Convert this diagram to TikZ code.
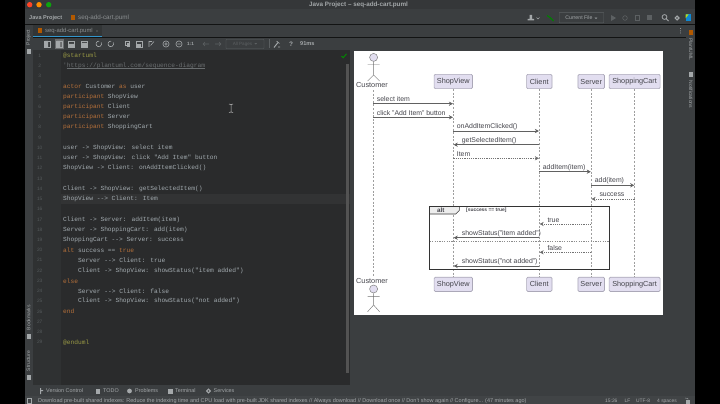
\documentclass[tikz,border=0pt]{standalone}
\usepackage{fontspec}
\setmainfont{Liberation Sans}
\newfontfamily\codefont{Liberation Mono}
\usetikzlibrary{arrows.meta}
\definecolor{idebg}{HTML}{3B3E40}
\definecolor{titlebg}{HTML}{353739}
\definecolor{edbg}{HTML}{2A2B2C}
\definecolor{gutterbg}{HTML}{2F3132}
\definecolor{rowbg}{HTML}{323334}
\definecolor{kw}{HTML}{B5703A}
\definecolor{tx}{HTML}{A3ABB0}
\definecolor{ann}{HTML}{9A9A45}
\definecolor{cmt}{HTML}{6A6E70}
\definecolor{lnum}{HTML}{555A5C}
\definecolor{uitx}{HTML}{A4A8AA}
\definecolor{dim}{HTML}{5C6062}
\definecolor{partfill}{HTML}{E2DEF0}
\definecolor{partline}{HTML}{ABA8B8}
\definecolor{dtx}{HTML}{45454C}
\tikzset{
  code/.style={anchor=west,inner sep=0pt,font=\codefont\fontsize{6.22}{7}\selectfont,text=tx},
  lnumber/.style={anchor=center,inner sep=0pt,font=\fontsize{4.8}{6}\selectfont,text=lnum},
  ui/.style={anchor=west,inner sep=0pt,font=\fontsize{5.6}{7}\selectfont,text=uitx},
  vert/.style={anchor=center,inner sep=0pt,font=\fontsize{5}{6}\selectfont,text=uitx},
  part/.style={draw=partline,fill=partfill,rounded corners=1.2pt,line width=.7pt,inner sep=0pt,minimum height=14.2pt,font=\fontsize{7.3}{9}\selectfont,text=dtx},
  life/.style={draw=black!38,line width=.4pt,dash pattern=on 2pt off 1.6pt},
  msg/.style={draw=black!62,line width=.75pt,shorten >=.4pt,-{Stealth[length=4pt,width=4.2pt,inset=1.2pt,fill=black!85]}},
  rmsg/.style={draw=black!55,line width=.55pt,dash pattern=on 1.2pt off 1pt,shorten >=.4pt,-{Stealth[length=4pt,width=4.2pt,inset=1.2pt,fill=black!85]}},
  mtxt/.style={anchor=west,inner sep=0pt,font=\fontsize{6.9}{8}\selectfont,text=dtx},
  actorline/.style={draw=black!55,line width=.4pt},
  actorhead/.style={circle,draw=black!50,fill=partfill,line width=.5pt,inner sep=0pt,minimum size=8pt},
  atxt/.style={inner sep=0pt,font=\fontsize{7.3}{9}\selectfont,text=dtx},
  ic/.style={draw=uitx,line width=.6pt},
  icf/.style={fill=uitx},
  icd/.style={draw=dim,line width=.6pt}
}
\begin{document}
\begin{tikzpicture}[x=1pt,y=-1pt]
\useasboundingbox (0,0) rectangle (720,404);
\fill[black] (0,0) rectangle (720,404);
% window
\fill[idebg] (25,0) rectangle (695,404);
\fill[titlebg] (25,0) rectangle (695,9.5);
\draw[black!70!idebg,line width=.3pt] (25,24.5) -- (695,24.5);
\draw[black!70!idebg,line width=.3pt] (33,37) -- (686,37);
\fill[idebg!97!white] (25,395.5) rectangle (695,404);
% lights
\fill[red!72!orange!85] (29.7,4.7) circle (2.7);
\fill[orange!90!yellow] (39,4.7) circle (2.7);
\fill[green!62!black!95] (48.7,4.7) circle (2.7);
\node[ui,font=\bfseries\fontsize{6.3}{7}\selectfont] (wtitle) at (309,4.6) {Java Project – seq-add-cart.puml};
% breadcrumb
\node[ui,font=\bfseries\fontsize{5.6}{7}\selectfont] (crumbp) at (29,18) {Java Project};
\fill[orange!70!black] (70.5,15.5) rectangle (74.5,20.5);
\node[ui,font=\fontsize{6.3}{7}\selectfont,text=uitx!85!black] (crumbf) at (78,18) {seq-add-cart.puml};
% tab
\fill[idebg!85!black] (33,25) rectangle (102,37);
\fill[orange!70!black] (37.5,28.5) rectangle (41.5,33.5);
\node[ui,font=\fontsize{5.9}{7}\selectfont,text=uitx!85!black] (tabf) at (45,31) {seq-add-cart.puml};
\fill[blue!35!cyan!60!gray] (33,35.8) rectangle (102,36.8);
\draw[dim,line width=.3pt] (96,30) -- (98,32) (98,30) -- (96,32);
% preview toolbar
\fill[idebg!75!white] (54.5,39) rectangle (64,49);
\foreach \ix in {47,59,71,84}{\draw[ic,line width=.5pt] (\ix-3,41) rectangle (\ix+3,47);}
\fill[uitx] (45,41) rectangle (48,47) (57,41) rectangle (60,47) (68,44) rectangle (74,47) (81,43) rectangle (87,47);
\foreach \ix in {99,111}{\draw[ic] (\ix+2.2,42.5) arc (-30:280:2.8);}
\draw[ic] (125,41) rectangle (129,45); \fill[uitx] (126.5,43) rectangle (130,47.5);
\draw[ic] (136,41) rectangle (142,47); \fill[uitx] (137,44) rectangle (141,47);
\draw[ic] (149,47) -- (149,41.5) -- (152,41.5) (150.5,45.5) -- (154,41.5);
\draw[ic] (166,44) circle (3.1) (164.3,44) -- (167.7,44) (166,42.3) -- (166,45.7);
\draw[ic] (179,44) circle (3.1) (177.3,44) -- (180.7,44);
\node[ui,anchor=center,font=\bfseries\fontsize{4.6}{6}\selectfont] (oneone) at (190.5,44) {1:1};
\draw[icd] (203,44) -- (209,44) (205,42) -- (203,44) -- (205,46);
\draw[icd] (215,44) -- (221,44) (219,42) -- (221,44) -- (219,46);
\node[draw=dim,line width=.4pt,minimum width=38pt,minimum height=9pt,inner sep=0pt,anchor=center,rounded corners=.5pt,font=\fontsize{4.6}{6}\selectfont,text=dim] (pages) at (245,44) {All Pages \,\raisebox{.5pt}{\tikz[x=1pt,y=1pt]\fill[dim] (0,1.5)--(3,1.5)--(1.5,0)--cycle;}};
\draw[dim,line width=.4pt] (269,39.5) -- (269,48.5);
\draw[ic,line width=1pt] (274,47.5) -- (278,42.5);
\draw[ic] (276.5,41) -- (279.5,43.5) (278,47) -- (280,47);
\node[ui,anchor=center,font=\bfseries\fontsize{6.5}{7}\selectfont] (help) at (291,44) {?};
\node[ui,font=\bfseries\fontsize{5.6}{7}\selectfont] (ms) at (300,44) {91ms};
% right toolbar
\fill[uitx] (527.5,20.5) rectangle (534,19) (529.5,15) rectangle (532,19);
\draw[ic,line width=.4pt] (536.5,17.5) -- (538,19) -- (539.5,17.5);
\draw[green!50!black,line width=1.2pt] (547,15.5) -- (550,17.5) -- (553.5,21);
\node[draw=dim,line width=.4pt,minimum width=44.5pt,minimum height=10.5pt,inner sep=0pt,anchor=center,rounded corners=.5pt,font=\fontsize{5.2}{6}\selectfont,text=uitx] (curfile) at (581.5,17.7) {Current File\,\,\raisebox{.5pt}{\tikz[x=1pt,y=1pt]\fill[uitx] (0,1.5)--(3.4,1.5)--(1.7,0)--cycle;}};
\fill[dim] (611,15) -- (611,21) -- (616,18) -- cycle;
\draw[icd] (625,18) circle (2.3);
\draw[icd] (635,15.5) rectangle (639.5,20.5);
\fill[dim] (647,15.5) rectangle (652,20.5);
\draw[ic,line width=.8pt] (664.5,17) circle (2.4) (666.3,18.8) -- (668.5,21);
\draw[ic,line width=1.2pt] (677,18) circle (1.9);
\fill[cyan!70!blue] (685.5,14.5) rectangle (690.5,21);
\fill[yellow!70!green] (685.5,14.5) -- (688.5,14.5) -- (685.5,18.5) -- cycle;
\fill[uitx] (680.5,28.5) circle (.5) (680.5,30.8) circle (.5) (680.5,33) circle (.5);
% side stripes
\node[vert,rotate=90] (vproj) at (28.5,37.5) {Project};
\fill[uitx] (26.5,49) rectangle (31,54);
\node[vert,rotate=90] (vbook) at (28.5,317.5) {Bookmarks};
\fill[uitx] (26.5,334) rectangle (30.5,339);
\node[vert,rotate=90] (vstruct) at (28.5,361) {Structure};
\fill[uitx] (26.5,375) rectangle (30.5,380);
\fill[orange!70!black] (688.5,30) rectangle (692.5,35);
\node[vert,rotate=-90] (vplant) at (691,49) {PlantUML};
\fill[uitx] (688.5,72) rectangle (692.5,77);
\node[vert,rotate=-90] (vnote) at (691,94.5) {Notifications};
% editor
\fill[edbg] (33,50.5) rectangle (350,385);
\fill[gutterbg] (33,50.5) rectangle (61,385);
\fill[rowbg] (61,193.7) rectangle (350,203.7);
\fill[black!35!gray] (346,64) rectangle (348.5,373);
\draw[green!55!black,line width=.9pt] (341.5,56) -- (343.2,57.8) -- (346.5,53.8);
\foreach \n in {1,...,29}{
  \pgfmathsetmacro{\ly}{55.7+10.23*(\n-1)}
  \node[lnumber] (ln\n) at (39.7,\ly) {\n};
}
\newcommand{\K}[1]{\textcolor{kw}{#1}}
\node[code,text=ann] (c1) at (63,55.7) {@startuml};
\node[code,text=cmt] (c2) at (63,65.9) {'https://plantuml.com/sequence-diagram};
\draw[cmt,line width=.35pt] ([xshift=3.7pt]c2.base west) ++(0,.8) -- ([yshift=-.8pt]c2.base east);
\node[code] (c4) at (63,86.4) {\K{actor} Customer \K{as} user};
\node[code] (c5) at (63,96.6) {\K{participant} ShopView};
\node[code] (c6) at (63,106.8) {\K{participant} Client};
\node[code] (c7) at (63,117.1) {\K{participant} Server};
\node[code] (c8) at (63,127.3) {\K{participant} ShoppingCart};
\node[code] (c10) at (63,147.8) {user -> ShopView: select item};
\node[code] (c11) at (63,158) {user -> ShopView: click "Add Item" button};
\node[code] (c12) at (63,168.2) {ShopView -> Client: onAddItemClicked()};
\node[code] (c14) at (63,188.7) {Client -> ShopView: getSelectedItem()};
\node[code] (c15) at (63,198.9) {ShopView --> Client: Item};
\node[code] (c17) at (63,219.4) {Client -> Server: addItem(item)};
\node[code] (c18) at (63,229.6) {Server -> ShoppingCart: add(item)};
\node[code] (c19) at (63,239.8) {ShoppingCart --> Server: success};
\node[code] (c20) at (63,250.1) {\K{alt} success == \K{true}};
\node[code] (c21) at (78,260.3) {Server --> Client: true};
\node[code] (c22) at (78,270.5) {Client -> ShopView: showStatus("item added")};
\node[code,text=kw] (c23) at (63,280.8) {else};
\node[code] (c24) at (78,291) {Server --> Client: false};
\node[code] (c25) at (78,301.2) {Client -> ShopView: showStatus("not added")};
\node[code,text=kw] (c26) at (63,311.5) {end};
\node[code,text=ann] (c29) at (63,342.2) {@enduml};
% text cursor
\draw[black!25,line width=.5pt] (229,104) -- (231,104.5) -- (233,104) (231,104.5) -- (231,112) (229,112.5) -- (231,112) -- (233,112.5);
% tool window bar
\fill[uitx] (40,388) rectangle (41,394) (41,390) rectangle (43,391);
\node[ui,font=\fontsize{5.4}{7}\selectfont] (bvc) at (46,391) {Version Control};
\fill[uitx] (96,388.5) rectangle (100,393.5);
\node[ui,font=\fontsize{5.4}{7}\selectfont] (btodo) at (103,391) {TODO};
\fill[uitx] (129.5,391) circle (2.4);
\node[ui,font=\fontsize{5.4}{7}\selectfont] (bprob) at (135,391) {Problems};
\fill[uitx] (167.5,388.5) rectangle (172.5,393.5);
\node[ui,font=\fontsize{5.4}{7}\selectfont] (bterm) at (175,391) {Terminal};
\draw[ic,line width=1pt] (208.5,391) circle (1.9);
\node[ui,font=\fontsize{5.4}{7}\selectfont] (bserv) at (213.5,391) {Services};
% status bar
\draw[ic,line width=.5pt] (27,398) rectangle (31.5,403);
\node[ui,font=\fontsize{5.5}{7}\selectfont] (sbar) at (38,400.9) {Download pre-built shared indexes: Reduce the indexing time and CPU load with pre-built JDK shared indexes // Always download // Download once // Don't show again // Configure... (47 minutes ago)};
\node[ui,font=\fontsize{4.9}{7}\selectfont] (s1) at (605,400.9) {15:26};
\node[ui,font=\fontsize{4.9}{7}\selectfont] (s2) at (624.5,400.9) {LF};
\node[ui,font=\fontsize{4.9}{7}\selectfont] (s3) at (636,400.9) {UTF-8};
\node[ui,font=\fontsize{4.9}{7}\selectfont] (s4) at (657,400.9) {4 spaces};
\fill[uitx] (685.5,400) rectangle (690,403.5);
\draw[ic,line width=.4pt] (685,398) -- (688,398.5) -- (688,400);
% diagram
\fill[white] (354,51) rectangle (663,315);
\node[part,minimum width=38.4pt] (svt) at (453.3,81.5) {ShopView};
\node[part,minimum width=25.4pt] (clt) at (539.3,81.5) {Client};
\node[part,minimum width=26.6pt] (set) at (591.2,81.5) {Server};
\node[part,minimum width=51pt] (sct) at (634.6,81.5) {ShoppingCart};
\node[part,minimum width=38.4pt] (svb) at (453.3,284.3) {ShopView};
\node[part,minimum width=25.4pt] (clb) at (539.3,284.3) {Client};
\node[part,minimum width=26.6pt] (seb) at (591.2,284.3) {Server};
\node[part,minimum width=51pt] (scb) at (634.6,284.3) {ShoppingCart};
\node[atxt] (cut) at (372,85.4) {Customer};
\node[atxt] (cub) at (372,281.4) {Customer};
\coordinate (cul1) at (373.4,90);
\coordinate (cul2) at (373.4,276.5);
\draw[life] (cul1) -- (cul2);
\draw[life] (svt) -- (svb);
\draw[life] (clt) -- (clb);
\draw[life] (set) -- (seb);
\draw[life] (sct) -- (scb);
% actors
\node[actorhead] (headt) at (373.6,57.4) {};
\draw[actorline] (headt.south) -- (373.6,75) (367.6,64.5) -- (379.6,64.5) (367.6,81) -- (373.6,75) -- (379.6,81);
\node[actorhead] (headb) at (373.6,289) {};
\draw[actorline] (headb.south) -- (373.6,305) (367.6,296.4) -- (379.6,296.4) (367.6,311.7) -- (373.6,305) -- (379.6,311.7);
% messages
\draw[msg] (cul1 |- 0,103.7) -- (svt |- 0,103.7);
\node[mtxt] (m1) at (376.7,99.3) {select item};
\draw[msg] (cul1 |- 0,117.3) -- (svt |- 0,117.3);
\node[mtxt] (m2) at (376.7,113) {click "Add Item" button};
\draw[msg] (svt |- 0,131) -- (clt |- 0,131);
\node[mtxt] (m3) at (456.7,126.7) {onAddItemClicked()};
\draw[msg] (clt |- 0,144.7) -- (svt |- 0,144.7);
\node[mtxt] (m4) at (461.7,140.3) {getSelectedItem()};
\draw[rmsg] (svt |- 0,158.3) -- (clt |- 0,158.3);
\node[mtxt] (m5) at (456.7,154) {Item};
\draw[msg] (clt |- 0,171.7) -- (set |- 0,171.7);
\node[mtxt] (m6) at (542.7,167.3) {addItem(item)};
\draw[msg] (set |- 0,185.3) -- (sct |- 0,185.3);
\node[mtxt] (m7) at (594.7,181) {add(item)};
\draw[rmsg] (sct |- 0,199) -- (set |- 0,199);
\node[mtxt] (m8) at (599.3,195) {success};
% alt frame
\fill[black!7] (429.7,206) -- (459.3,206) -- (459.3,210.5) -- (455.8,214) -- (429.7,214) -- cycle;
\draw[black!78,line width=.6pt] (459.3,206) -- (459.3,210.5) -- (455.8,214) -- (429.7,214);
\draw[black!80,line width=.9pt] (429.7,206) rectangle (609.3,269.7);
\node[anchor=center,inner sep=0pt,font=\bfseries\fontsize{6.3}{8}\selectfont,text=dtx] (alt) at (440.8,210.3) {alt};
\node[anchor=west,inner sep=0pt,font=\bfseries\fontsize{4.9}{6}\selectfont,text=dtx] (guard) at (466,210.3) {[success == true]};
\draw[black!45,line width=.6pt,dash pattern=on 1.2pt off 1.2pt] (429.7,241.7) -- (609.3,241.7);
\draw[rmsg] (set |- 0,224) -- (clt |- 0,224);
\node[mtxt] (m9) at (547.3,220) {true};
\draw[msg] (clt |- 0,237.7) -- (svt |- 0,237.7);
\node[mtxt] (m10) at (461.7,233.7) {showStatus("item added")};
\draw[rmsg] (set |- 0,252.3) -- (clt |- 0,252.3);
\node[mtxt] (m11) at (547.3,248) {false};
\draw[msg] (clt |- 0,266) -- (svt |- 0,266);
\node[mtxt] (m12) at (461.7,261.7) {showStatus("not added")};
\end{tikzpicture}
\end{document}
